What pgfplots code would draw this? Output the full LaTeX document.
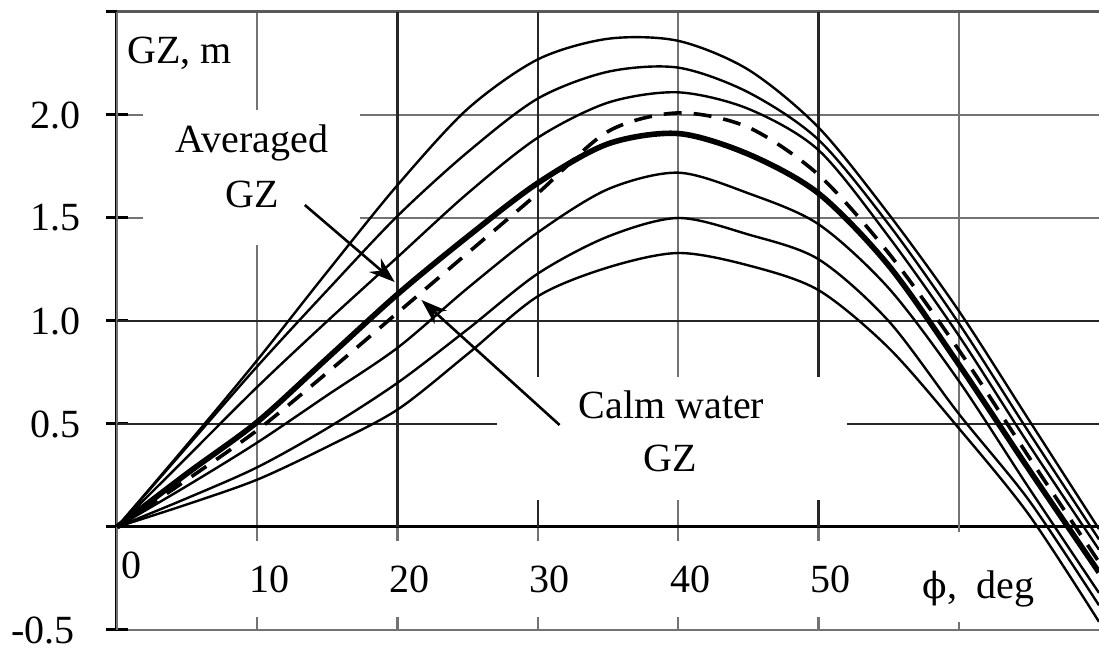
\documentclass[border=0pt]{standalone}
\usepackage{fontspec}
\setmainfont{Liberation Serif}
\newfontfamily\phifont{DejaVu Serif}
\usepackage{pgfplots}
\usepackage{pgfplotstable}
\pgfplotsset{compat=1.18}
\usetikzlibrary{arrows.meta}

\pgfplotstableread{
x   c1    c2    c3    cw    av    c4    c5    c6
0   0     0     0     0     0     0     0     0
5   0.40  0.39  0.34  0.23  0.26  0.20  0.14  0.11
10  0.81  0.78  0.68  0.47  0.51  0.41  0.29  0.23
15  1.24  1.15  1.00  0.75  0.82  0.64  0.48  0.39
20  1.66  1.51  1.31  1.04  1.13  0.87  0.70  0.57
25  2.03  1.82  1.62  1.33  1.41  1.16  0.96  0.84
30  2.27  2.08  1.89  1.62  1.67  1.43  1.23  1.12
35  2.37  2.21  2.06  1.92  1.86  1.64  1.41  1.26
40  2.36  2.23  2.11  2.01  1.91  1.72  1.50  1.33
45  2.22  2.11  2.03  1.94  1.81  1.62  1.42  1.27
50  1.94  1.88  1.83  1.71  1.62  1.47  1.30  1.15
55  1.52  1.47  1.41  1.33  1.27  1.16  1.00  0.87
60  1.05  0.99  0.93  0.86  0.79  0.71  0.55  0.48
65  0.52  0.46  0.40  0.34  0.28  0.19  0.13  0.06
70  -0.01 -0.06 -0.11 -0.17 -0.22 -0.32 -0.38 -0.46
}\gz

\begin{document}
\begin{tikzpicture}[font=\fontsize{20}{27}\selectfont]
\path (-58.5pt,-11pt) rectangle (491pt,315pt);
\begin{pgfinterruptboundingbox}
\begin{axis}[
  at={(0pt,0pt)}, anchor=south west,
  scale only axis, width=491pt, height=309pt,
  xmin=0, xmax=70, ymin=-0.5, ymax=2.5,
  clip=false,
  axis x line*=middle, axis y line*=left,
  axis line style={black, line width=1.5pt},
  xtick={10,20,30,40,50},
  xticklabels={10,20,30,40,50},
  extra x ticks={0,60},
  extra x tick labels={},
  extra x tick style={grid=major, xticklabel style={fill=none}},
  ytick={-0.5,0,0.5,1,1.5,2,2.5},
  yticklabels={-0.5\hspace*{3pt},,0.5,1.0,1.5,2.0,},
  xmajorgrids, ymajorgrids,
  major grid style={black!55, line width=1.1pt},
  major tick length=11pt, tick align=center,
  xtick style={draw=none},
  ytick style={black, line width=1.5pt},
  xticklabel style={fill=white, inner xsep=3pt, inner ysep=0pt, minimum height=38pt, anchor=north, xshift=6pt, yshift=-1.5pt},
  yticklabel style={anchor=east, inner sep=0pt, xshift=-12.5pt},
]
% frame top line and darker grid lines
\draw[black!65, line width=1.5pt] (axis cs:0,2.5) -- (axis cs:70,2.5);
\draw[black!85, line width=1.1pt] (axis cs:20,0) -- (axis cs:20,2.5);
\draw[black!85, line width=1.1pt] (axis cs:30,0) -- (axis cs:30,2.5);
\draw[black!85, line width=1.1pt] (axis cs:50,0) -- (axis cs:50,2.5);
\draw[black!85, line width=1.1pt] (axis cs:0,0.5) -- (axis cs:70,0.5);
\draw[black!85, line width=1.1pt] (axis cs:0,1) -- (axis cs:70,1);
% white boxes behind annotations
\node[fill=white, minimum width=108.5pt, minimum height=67.5pt, inner sep=0pt] at (axis cs:9.58,1.697) {};
\node[fill=white, minimum width=175pt, minimum height=61.5pt, inner sep=0pt] at (axis cs:39.53,0.43) {};
\node[fill=white, minimum width=81pt, minimum height=45pt, inner sep=0pt] at (axis cs:61.9,-0.243) {};

\addplot[black, line width=1.2pt, smooth, tension=0.5] table[x=x, y=c1] {\gz};
\addplot[black, line width=1.2pt, smooth, tension=0.5] table[x=x, y=c2] {\gz};
\addplot[black, line width=1.2pt, smooth, tension=0.5] table[x=x, y=c3] {\gz};
\addplot[black, line width=1.2pt, smooth, tension=0.5] table[x=x, y=c4] {\gz};
\addplot[black, line width=1.2pt, smooth, tension=0.5] table[x=x, y=c5] {\gz};
\addplot[black, line width=1.2pt, smooth, tension=0.5] table[x=x, y=c6] {\gz};
\addplot[black, line width=1.8pt, dash pattern=on 9pt off 6pt, smooth, tension=0.5] table[x=x, y=cw] {\gz};
\addplot[black, line width=2.8pt, smooth, tension=0.5] table[x=x, y=av] {\gz};

\node[anchor=base] at (axis cs:9.62,1.816) {Averaged};
\node[anchor=base] at (axis cs:9.62,1.553) {GZ};
\node[anchor=base] at (axis cs:39.53,0.529) {Calm water};
\node[anchor=base] at (axis cs:39.46,0.267) {GZ};
\node[anchor=base west, inner sep=0pt] at (axis cs:0.71,2.252) {GZ, m};
\node[anchor=base west, inner sep=0pt] at (axis cs:57.4,-0.345) {{\phifont\fontsize{18}{20}\selectfont ϕ},};
\node[anchor=base west, inner sep=0pt] at (axis cs:61.24,-0.345) {deg};
\node[anchor=base, inner sep=0pt] at (axis cs:1.03,-0.2476) {0};

\draw[line width=1.3pt, -{Stealth[length=13pt, width=9pt]}] (axis cs:13.39,1.563) -- (axis cs:19.80,1.189);
\draw[line width=1.3pt, -{Stealth[length=13pt, width=9pt]}] (axis cs:31.55,0.495) -- (axis cs:21.70,1.102);
\end{axis}
\end{pgfinterruptboundingbox}
\end{tikzpicture}
\end{document}
